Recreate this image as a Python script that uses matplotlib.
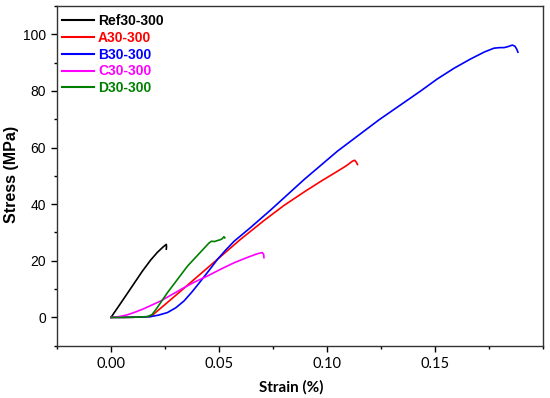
import matplotlib
matplotlib.use("Agg")
import matplotlib.pyplot as plt
from matplotlib.ticker import MultipleLocator

labels = ["Ref30-300", "A30-300", "B30-300", "C30-300", "D30-300"]
colors = ["#000000", "#ff0000", "#0000ff", "#ff00ff", "#008000"]

ref_strain = [0, 0.0035, 0.0068, 0.0106, 0.0145, 0.0184, 0.0215, 0.0240, 0.0256, 0.0257, 0.0256]
ref_stress = [0, 3.9, 7.6, 11.9, 16.3, 20.3, 23.0, 24.8, 25.8, 25.0, 24.1]

a_strain = [0, 0.005, 0.010, 0.015, 0.0184, 0.022, 0.030, 0.040, 0.050, 0.060, 0.0708, 0.080, 0.0894, 0.0970, 0.1048, 0.1090, 0.1118, 0.1128, 0.1135, 0.1141]
a_stress = [0, 0.0, 0.05, 0.15, 0.3, 2.6, 7.8, 14.4, 21.0, 27.6, 34.2, 39.5, 44.3, 48.0, 51.6, 53.6, 55.2, 55.5, 54.9, 54.0]

b_strain = [0, 0.005, 0.010, 0.015, 0.0184, 0.022, 0.0261, 0.030, 0.0338, 0.0375, 0.0415, 0.0455, 0.0493, 0.053, 0.057, 0.0647, 0.074, 0.0894, 0.1048, 0.1241, 0.1434, 0.1510, 0.1588, 0.1665, 0.1730, 0.1773, 0.1800, 0.1820, 0.1840, 0.1858, 0.1870, 0.1878, 0.1884]
b_stress = [0, 0.0, 0.05, 0.15, 0.3, 0.8, 1.7, 3.4, 5.8, 9.0, 12.8, 16.7, 20.5, 23.7, 26.9, 31.8, 38.0, 48.7, 58.7, 69.8, 80.0, 84.2, 88.0, 91.3, 93.8, 95.1, 95.3, 95.3, 95.7, 96.2, 95.8, 94.8, 93.7]

c_strain = [0, 0.004, 0.0075, 0.0106, 0.015, 0.019, 0.023, 0.0285, 0.0338, 0.039, 0.0446, 0.051, 0.057, 0.0625, 0.0678, 0.070, 0.0707, 0.0708]
c_stress = [0, 0.3, 0.9, 1.7, 3.0, 4.4, 5.8, 8.2, 10.5, 12.6, 14.6, 17.1, 19.3, 21.0, 22.5, 22.9, 22.2, 21.1]

d_strain = [0, 0.005, 0.010, 0.015, 0.017, 0.019, 0.021, 0.0261, 0.0354, 0.0454, 0.0465, 0.0480, 0.0495, 0.0505, 0.0515, 0.0523, 0.0527]
d_stress = [0, 0.0, 0.05, 0.2, 0.3, 1.0, 3.0, 8.7, 18.1, 26.3, 26.9, 26.8, 27.2, 27.4, 27.8, 28.5, 28.1]

xticks = [0.00, 0.05, 0.10, 0.15]
xticklabels = ["0.00", "0.05", "0.10", "0.15"]
yticks = [0, 20, 40, 60, 80, 100]
yticklabels = ["0", "20", "40", "60", "80", "100"]

fig = plt.figure(figsize=(5.5, 3.98), dpi=100)
ax = fig.add_axes([57/550, 1-345.7/398, (543-57)/550, (345.7-6)/398])

series = [(ref_strain, ref_stress), (a_strain, a_stress), (b_strain, b_stress),
          (c_strain, c_stress), (d_strain, d_stress)]
for (xs, ys), lab, col in zip(series, labels, colors):
    ax.plot(xs, ys, color=col, lw=1.2, label=lab, solid_joinstyle="round")

ax.set_xlim(-0.025, 0.2)
ax.set_ylim(-10, 110)
ax.set_xticks(xticks)
ax.set_xticklabels(xticklabels, fontfamily="Lato", fontsize=10.5)
ax.set_yticks(yticks)
ax.set_yticklabels(yticklabels, fontfamily="Liberation Sans", fontsize=10)
ax.xaxis.set_minor_locator(MultipleLocator(0.025))
ax.yaxis.set_minor_locator(MultipleLocator(10))
ax.tick_params(which="major", direction="out", length=4, width=1, pad=4)
ax.tick_params(which="minor", direction="out", length=2.5, width=1)
for s in ax.spines.values():
    s.set_linewidth(1.0)
    s.set_color("#333333")

ax.set_xlabel("Strain (%)", fontfamily="Lato", fontweight="bold", fontsize=11)
ax.xaxis.set_label_coords(0.483, -0.1)
ax.set_ylabel("Stress (MPa)", fontfamily="Liberation Sans", fontweight="bold", fontsize=11.5)
ax.yaxis.set_label_coords(-0.078, 0.503)

leg = ax.legend(loc="upper left", bbox_to_anchor=(0.0103, 0.976), frameon=False,
                borderpad=0, borderaxespad=0, handlelength=2.3, handletextpad=0.3,
                labelspacing=0.2, prop={"family": "Liberation Sans", "weight": "bold", "size": 10})
for txt, col in zip(leg.get_texts(), colors):
    txt.set_color(col)
for ln in leg.get_lines():
    ln.set_linewidth(1.5)

fig.savefig("out.png", dpi=100)
